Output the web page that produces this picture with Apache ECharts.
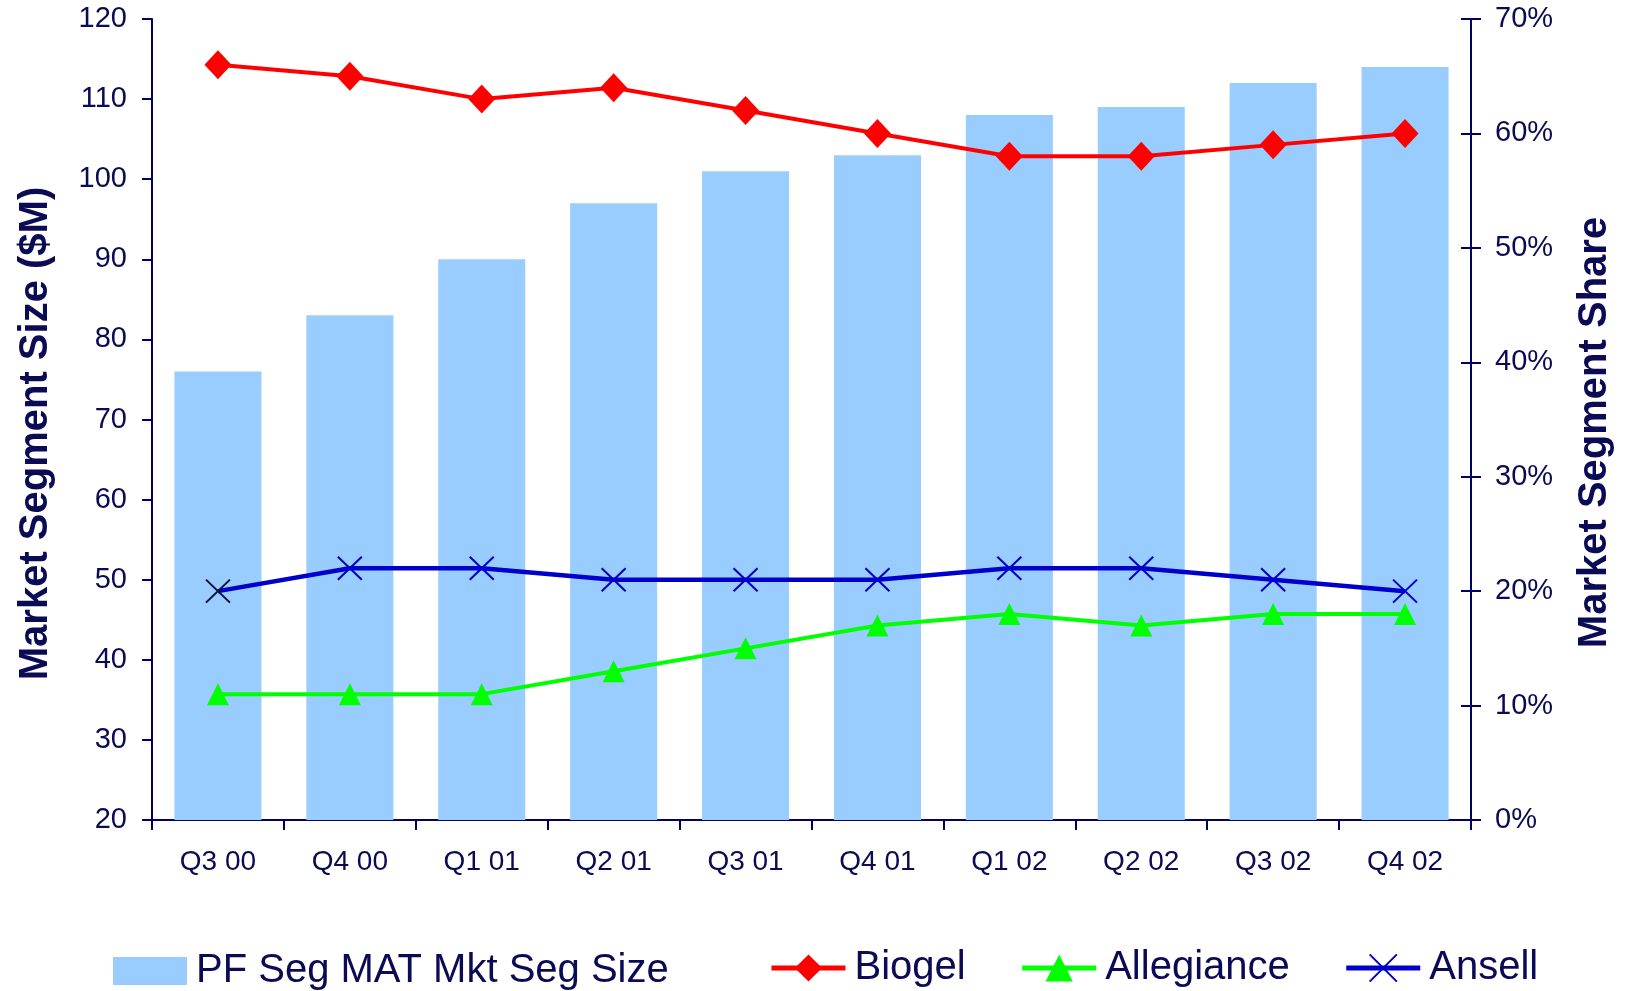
<!DOCTYPE html>
<html>
<head>
<meta charset="utf-8">
<script src="https://cdn.jsdelivr.net/npm/echarts@6/dist/echarts.min.js"></script>
<style>
  html, body { margin: 0; padding: 0; background: #fff; }
  #chart { width: 1634px; height: 991px; }
</style>
</head>
<body>
<div id="chart"></div>
<script>
const quarters = ['Q3 00', 'Q4 00', 'Q1 01', 'Q2 01', 'Q3 01', 'Q4 01', 'Q1 02', 'Q2 02', 'Q3 02', 'Q4 02'];
// market segment size, $M
const segSize = [76, 83, 90, 97, 101, 103, 108, 109, 112, 114];
// market share, %
const biogel = [66, 65, 63, 64, 62, 60, 58, 58, 59, 60];
const allegiance = [11, 11, 11, 13, 15, 17, 18, 17, 18, 18];
const ansell = [20, 22, 22, 21, 21, 21, 22, 22, 21, 20];

const navy = '#000066';
const textNavy = '#0a0a55';
const font = '"Liberation Sans", Arial, sans-serif';
const xMark = 'path://M0,0L20,20M20,0L0,20';

const chart = echarts.init(document.getElementById('chart'));

const option = {
  backgroundColor: '#ffffff',
  animation: false,
  textStyle: { fontFamily: font, color: textNavy },
  grid: { left: 152, right: 163, top: 19, bottom: 171, outerBoundsMode: 'none' },
  legend: [
    {
      left: 108,
      top: 946,
      icon: 'rect',
      itemWidth: 74,
      itemHeight: 28,
      textStyle: { fontSize: 40, color: textNavy, fontFamily: font, padding: [0, 0, 0, 4] },
      data: ['PF Seg MAT Mkt Seg Size']
    },
    {
      left: 764,
      top: 943,
      itemWidth: 74,
      itemHeight: 34,
      itemGap: 54,
      lineStyle: { width: 5 },
      textStyle: { fontSize: 40, color: textNavy, fontFamily: font, padding: [0, 0, 0, 4] },
      data: ['Biogel', 'Allegiance', 'Ansell']
    }
  ],
  xAxis: {
    type: 'category',
    data: quarters,
    boundaryGap: true,
    axisLine: { lineStyle: { color: navy, width: 2 } },
    axisTick: { show: true, length: 10, lineStyle: { color: navy, width: 2 } },
    axisLabel: { fontSize: 28, color: textNavy, margin: 28, fontFamily: font },
    splitLine: { show: false }
  },
  yAxis: [
    {
      type: 'value',
      min: 20,
      max: 120,
      interval: 10,
      name: 'Market Segment Size ($M)',
      nameLocation: 'middle',
      nameGap: 96,
      nameRotate: 90,
      nameTextStyle: { fontSize: 40, fontWeight: 'bold', color: textNavy, fontFamily: font, padding: [0, 28, 0, 0] },
      axisLine: { show: true, lineStyle: { color: navy, width: 2 } },
      axisTick: { show: true, length: 10, lineStyle: { color: navy, width: 2 } },
      axisLabel: { fontSize: 29, color: textNavy, margin: 25, fontFamily: font },
      splitLine: { show: false }
    },
    {
      type: 'value',
      position: 'right',
      min: 0,
      max: 70,
      interval: 10,
      name: 'Market Segment Share',
      nameLocation: 'middle',
      nameGap: 104,
      nameRotate: 90,
      nameTextStyle: { fontSize: 40, fontWeight: 'bold', color: textNavy, fontFamily: font, padding: [0, 26, 0, 0] },
      axisLine: { show: true, lineStyle: { color: navy, width: 2 } },
      axisTick: { show: true, length: 10, lineStyle: { color: navy, width: 2 } },
      axisLabel: { fontSize: 29, color: textNavy, margin: 24, fontFamily: font, formatter: '{value}%' },
      splitLine: { show: false }
    },
    {
      // inner half of the crossing ticks on the right axis
      type: 'value',
      position: 'right',
      min: 0,
      max: 70,
      interval: 10,
      axisLine: { show: false },
      axisTick: { show: true, inside: true, length: 10, lineStyle: { color: navy, width: 2 } },
      axisLabel: { show: false },
      splitLine: { show: false }
    }
  ],
  series: [
    {
      name: 'PF Seg MAT Mkt Seg Size',
      type: 'bar',
      yAxisIndex: 0,
      data: segSize,
      barWidth: '66%',
      itemStyle: { color: '#99ccff' }
    },
    {
      name: 'Biogel',
      type: 'line',
      yAxisIndex: 1,
      data: biogel,
      symbol: 'diamond',
      symbolSize: [27, 29],
      lineStyle: { color: '#ff0000', width: 4 },
      itemStyle: { color: '#ff0000' }
    },
    {
      name: 'Allegiance',
      type: 'line',
      yAxisIndex: 1,
      data: allegiance,
      symbol: 'triangle',
      symbolSize: 22,
      lineStyle: { color: '#00ff00', width: 4 },
      itemStyle: { color: '#00ff00' }
    },
    {
      name: 'Ansell',
      type: 'line',
      yAxisIndex: 1,
      data: ansell.map((v, i) => i === 0
        ? { value: v, itemStyle: { borderColor: '#101040' } }
        : v),
      symbol: xMark,
      symbolSize: [24, 23],
      lineStyle: { color: '#0000cc', width: 4.5 },
      itemStyle: { color: '#0000cc', borderColor: '#0000cc', borderWidth: 2 }
    }
  ]
};

chart.setOption(option);
</script>
</body>
</html>
